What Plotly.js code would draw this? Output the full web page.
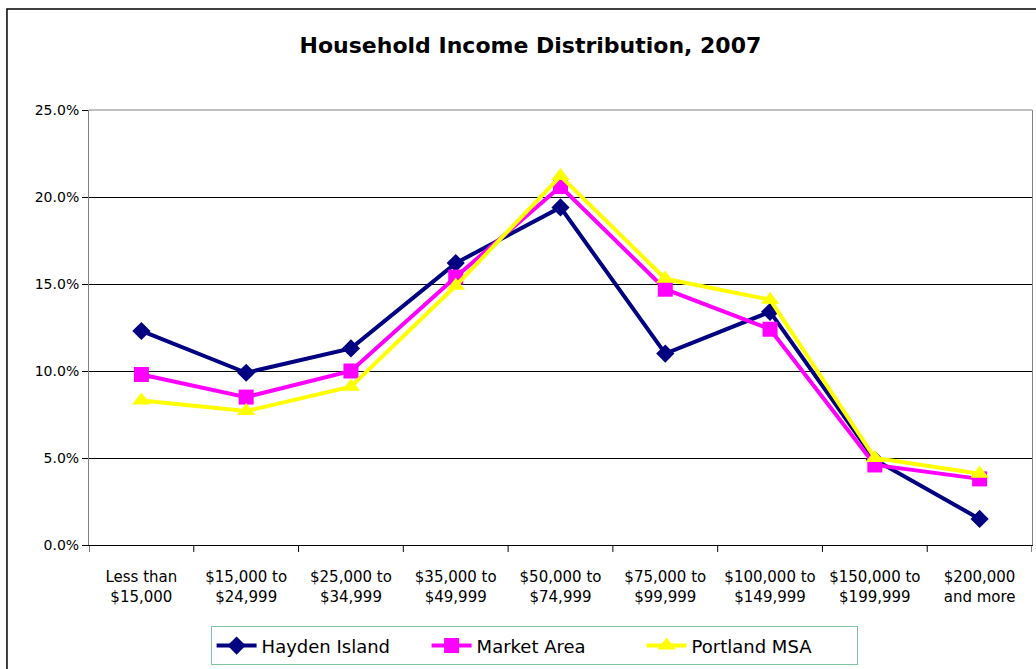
<!DOCTYPE html>
<html>
<head>
<meta charset="utf-8">
<script src="https://cdn.plot.ly/plotly-3.0.1.min.js"></script>
<style>
  html, body { margin: 0; padding: 0; background: #ffffff; }
  #chart { width: 1036px; height: 669px; }
</style>
</head>
<body>
<div id="chart"></div>
<script>
const categories = [
  "Less than<br>$15,000",
  "$15,000 to<br>$24,999",
  "$25,000 to<br>$34,999",
  "$35,000 to<br>$49,999",
  "$50,000 to<br>$74,999",
  "$75,000 to<br>$99,999",
  "$100,000 to<br>$149,999",
  "$150,000 to<br>$199,999",
  "$200,000<br>and more"
];
const haydenIsland = [12.3, 9.9, 11.3, 16.2, 19.4, 11.0, 13.4, 4.9, 1.5];
const marketArea   = [9.8, 8.5, 10.0, 15.4, 20.6, 14.7, 12.4, 4.6, 3.8];
const portlandMSA  = [8.3, 7.7, 9.1, 14.9, 21.2, 15.3, 14.1, 5.0, 4.1];
const yTicks = [0, 5, 10, 15, 20, 25];
const yTickLabels = ["0.0%", "5.0%", "10.0%", "15.0%", "20.0%", "25.0%"];

const xIdx = categories.map((_, i) => i);

function series(name, values, color, symbol, size) {
  return {
    type: 'scatter', mode: 'lines+markers', name: name,
    x: xIdx, y: values,
    line: { color: color, width: 4 },
    marker: { color: color, symbol: symbol, size: size, line: { width: 0 } },
    cliponaxis: false
  };
}

const data = [
  series('Hayden Island', haydenIsland, '#000080', 'diamond', 14),
  series('Market Area', marketArea, '#FF00FF', 'square', 15),
  series('Portland MSA', portlandMSA, '#FFFF00', 'triangle-up', 16)
];

const font = "DejaVu Sans, Verdana, sans-serif";

const layout = {
  width: 1036, height: 669,
  margin: { l: 89, r: 4, t: 110, b: 120 },
  paper_bgcolor: '#ffffff', plot_bgcolor: '#ffffff',
  font: { family: font, color: '#000000', size: 14 },
  title: {
    text: '<b>Household Income Distribution, 2007</b>',
    font: { family: font, size: 22, color: '#000000' },
    x: 0.512, xref: 'container', xanchor: 'center',
    y: 0.933, yref: 'container', yanchor: 'middle'
  },
  xaxis: {
    type: 'linear',
    range: [-0.5, categories.length - 0.5],
    tickmode: 'array', tickvals: xIdx, ticktext: categories,
    showgrid: false, zeroline: false,
    showline: true, linecolor: '#000000', linewidth: 1,
    ticks: '', tickfont: { family: font, size: 15, color: '#000000' },
    ticklabelstandoff: 18,
    fixedrange: true
  },
  yaxis: {
    range: [0, 25],
    tickmode: 'array', tickvals: yTicks, ticktext: yTickLabels,
    showgrid: true, gridcolor: '#000000', gridwidth: 1,
    zeroline: false,
    showline: true, mirror: true, linecolor: '#808080', linewidth: 1,
    ticks: 'outside', ticklen: 6, tickcolor: '#000000',
    tickfont: { family: font, size: 14, color: '#000000' },
    fixedrange: true
  },
  showlegend: true,
  legend: {
    orientation: 'h',
    x: 0.472, xanchor: 'center',
    y: -0.187, yanchor: 'top',
    bordercolor: '#7fc4a0', borderwidth: 1,
    bgcolor: '#ffffff',
    font: { family: font, size: 18, color: '#000000' },
    itemwidth: 40,
    entrywidth: 160,
    traceorder: 'normal'
  },
  shapes: [
    { type: 'rect', xref: 'paper', yref: 'paper',
      x0: -0.087, x1: 1.2, y0: -0.6, y1: 1.2323,
      line: { color: '#000000', width: 1.5 }, fillcolor: 'rgba(0,0,0,0)', layer: 'below' },
    { type: 'line', xref: 'paper', yref: 'paper', x0: 0, x1: 1, y0: 1, y1: 1,
      line: { color: '#808080', width: 1 } }
  ].concat(
    Array.from({ length: categories.length + 1 }, (_, i) => ({
      type: 'line', xref: 'x', yref: 'paper',
      x0: i - 0.5, x1: i - 0.5, y0: 0, y1: -0.016,
      line: { color: '#000000', width: 1 }
    }))
  )
};

Plotly.newPlot('chart', data, layout, { displayModeBar: false, staticPlot: true });
</script>
</body>
</html>
